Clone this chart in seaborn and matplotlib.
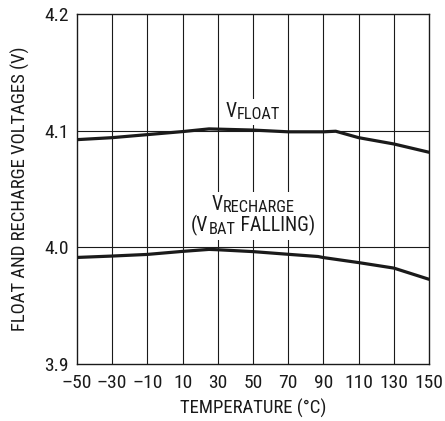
import matplotlib
matplotlib.use("Agg")
import matplotlib.pyplot as plt
import matplotlib.transforms as mtransforms
from matplotlib.patches import Rectangle
import seaborn as sns
import pandas as pd
from matplotlib import font_manager

temp_float = [-50, -30, -10, 10, 25, 50, 70, 90, 97, 110, 130, 150]
v_float = [4.0923, 4.0940, 4.0966, 4.0992, 4.1015, 4.1005, 4.0990, 4.0990, 4.0995, 4.0940, 4.0886, 4.0815]
temp_rech = [-50, -30, -10, 10, 25, 30, 50, 70, 87, 90, 110, 130, 150]
v_rech = [3.9914, 3.9926, 3.9940, 3.9966, 3.9983, 3.9980, 3.9964, 3.9941, 3.9922, 3.9913, 3.9870, 3.9823, 3.9727]
x_ticks = [-50, -30, -10, 10, 30, 50, 70, 90, 110, 130, 150]
y_ticks = [3.9, 4.0, 4.1, 4.2]

sns.set_theme(style="white")
names = {f.name for f in font_manager.fontManager.ttflist}
fam = "Roboto Condensed" if "Roboto Condensed" in names else "DejaVu Sans"
plt.rcParams["font.family"] = [fam, "DejaVu Sans"]

INK = "#1a1a1a"

df = pd.concat([
    pd.DataFrame({"T": temp_float, "V": v_float, "s": "float"}),
    pd.DataFrame({"T": temp_rech, "V": v_rech, "s": "rech"}),
])

fig = plt.figure(figsize=(4.45, 4.21), dpi=100)
ax = fig.add_axes([0.173, 0.135, 0.791, 0.832])
sns.lineplot(data=df, x="T", y="V", units="s", estimator=None, color=INK,
             linewidth=2.3, ax=ax, zorder=5, sort=False)

ax.set_xlim(-50, 150)
ax.set_ylim(3.9, 4.2)
ax.set_xticks(x_ticks)
ax.set_xticklabels([str(t).replace("-", "\u2013") for t in x_ticks])
ax.set_yticks(y_ticks)
ax.set_yticklabels([f"{v:.1f}" for v in y_ticks])
ax.tick_params(axis="x", labelsize=14, length=0, pad=7, colors=INK)
ax.tick_params(axis="y", labelsize=14, length=0, pad=6, colors=INK)
for t in x_ticks[1:-1]:
    ax.axvline(t, color=INK, linewidth=0.8, zorder=1)
for v in [4.0, 4.1]:
    ax.axhline(v, color=INK, linewidth=0.8, zorder=1)
for s in ax.spines.values():
    s.set_color(INK)
    s.set_linewidth(1.0)

ax.set_xlabel("TEMPERATURE (°C)", fontsize=13.5, color=INK, labelpad=5)
ax.set_ylabel("FLOAT AND RECHARGE VOLTAGES (V)", fontsize=13.5, color=INK, labelpad=10)

BIG, SMALL = 14.2, 11.8
labels = [
    (50, 4.1120, [("V", BIG, 0), ("FLOAT", SMALL, -2)]),
    (50, 4.0324, [("V", BIG, 0), ("RECHARGE", SMALL, -2)]),
    (50, 4.0136, [("(V", BIG, 0), ("BAT", SMALL, -2), (" FALLING)", BIG, 0)]),
]
created = []
for xc, yb, parts in labels:
    row = []
    for s, size, dy in parts:
        t = ax.text(xc, yb, s, fontsize=size, ha="left", va="baseline", color=INK, zorder=4)
        row.append((t, dy))
    created.append(row)

fig.canvas.draw()
r = fig.canvas.get_renderer()
for row in created:
    widths = [t.get_window_extent(r).width for t, _ in row]
    x = -sum(widths) / 2
    for (t, dy), w in zip(row, widths):
        t.set_transform(mtransforms.offset_copy(ax.transData, fig, x=x, y=dy, units="dots"))
        x += w

fig.canvas.draw()
r = fig.canvas.get_renderer()
pad = 3
for row in created:
    ext = mtransforms.Bbox.union([t.get_window_extent(r) for t, _ in row])
    ax.add_patch(Rectangle((ext.x0 - pad, ext.y0 - pad), ext.width + 2 * pad, ext.height + 2 * pad,
                           transform=mtransforms.IdentityTransform(), facecolor="white",
                           edgecolor="none", zorder=3))

if ax.get_legend() is not None:
    ax.get_legend().remove()
fig.savefig("out.png", dpi=100)
